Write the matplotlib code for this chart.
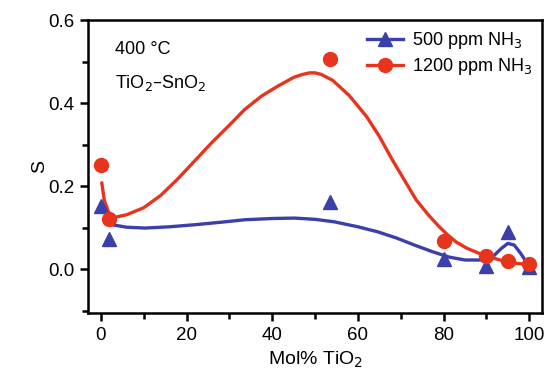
import matplotlib
matplotlib.use("Agg")
import matplotlib.pyplot as plt
from matplotlib.ticker import MultipleLocator

plt.rcParams['font.family'] = ['Liberation Sans', 'DejaVu Sans']

# measured points
x_500 = [0, 2, 53.5, 80, 90, 95, 100]
s_500 = [0.152, 0.072, 0.162, 0.025, 0.008, 0.09, 0.006]
x_1200 = [0, 2, 53.5, 80, 90, 95, 100]
s_1200 = [0.252, 0.12, 0.507, 0.067, 0.031, 0.019, 0.013]

# fitted curves
cx_500 = [2.6, 6, 10.3, 16, 21.9, 28, 33.6, 40, 45.2, 50, 54.5, 60, 64.6, 69, 73.2, 77.4, 81.3, 85, 89, 91.5, 93.5, 95, 96.5, 98, 100]
cy_500 = [0.107, 0.101, 0.099, 0.102, 0.107, 0.113, 0.119, 0.122, 0.123, 0.12, 0.114, 0.102, 0.09, 0.075, 0.058, 0.042, 0.029, 0.022, 0.022, 0.03, 0.05, 0.062, 0.058, 0.038, 0.006]
cx_1200 = [0.2, 0.8, 1.8, 3.3, 6, 10, 14, 18, 22, 25.9, 30, 33.6, 37.5, 41.3, 45, 47, 48.7, 50, 51.5, 54.1, 58, 62, 65, 68, 71, 73.6, 76.5, 79, 81, 83, 85.5, 88.3, 91.5, 94.6, 97, 100]
cy_1200 = [0.208, 0.165, 0.137, 0.125, 0.131, 0.148, 0.178, 0.218, 0.262, 0.305, 0.347, 0.385, 0.417, 0.441, 0.462, 0.469, 0.473, 0.473, 0.469, 0.455, 0.418, 0.368, 0.32, 0.264, 0.212, 0.167, 0.13, 0.102, 0.082, 0.065, 0.05, 0.038, 0.027, 0.018, 0.014, 0.011]

red = '#e8341c'
blue = '#3b3faa'

fig = plt.figure(figsize=(5.47, 3.80), dpi=100)
ax = fig.add_axes([0.161, 0.176, 0.830, 0.771])

ax.plot(cx_500, cy_500, color=blue, lw=2.4, solid_capstyle='round', solid_joinstyle='round', zorder=2)
ax.plot(cx_1200, cy_1200, color=red, lw=2.4, solid_capstyle='round', solid_joinstyle='round', zorder=2)
ax.plot(x_500, s_500, linestyle='none', marker='^', ms=10, color=blue, zorder=3)
ax.plot(x_1200, s_1200, linestyle='none', marker='o', ms=10, color=red, zorder=4)

# legend handles
h1, = ax.plot([], [], color=blue, lw=2.4, marker='^', ms=10)
h2, = ax.plot([], [], color=red, lw=2.4, marker='o', ms=10)
ax.legend([h1, h2], ['500 ppm NH$_3$', '1200 ppm NH$_3$'], loc='upper right',
          frameon=False, fontsize=13, handlelength=2.0, borderaxespad=0.15,
          handletextpad=0.5, labelspacing=0.3)

ax.set_xlim(-3, 103)
ax.set_ylim(-0.106, 0.6)
ax.xaxis.set_major_locator(MultipleLocator(20))
ax.xaxis.set_minor_locator(MultipleLocator(10))
ax.yaxis.set_major_locator(MultipleLocator(0.2))
ax.yaxis.set_minor_locator(MultipleLocator(0.1))
ax.set_yticks([0.0, 0.2, 0.4, 0.6])
ax.set_yticklabels(['0.0', '0.2', '0.4', '0.6'])
ax.tick_params(which='major', direction='out', length=6, width=1.8, labelsize=13.5, pad=4)
ax.tick_params(which='minor', direction='out', length=4, width=1.8)
for sp in ax.spines.values():
    sp.set_linewidth(1.8)
    sp.set_color('black')

ax.set_xlabel('Mol% TiO$_2$', fontsize=14, labelpad=4)
ax.set_ylabel('S', fontsize=14, labelpad=0)

ax.text(0.06, 0.93, '400 °C', transform=ax.transAxes, fontsize=13, va='top', ha='left')
ax.text(0.06, 0.82, 'TiO$_2$–SnO$_2$', transform=ax.transAxes, fontsize=13, va='top', ha='left')

fig.savefig('out.png', dpi=100)
